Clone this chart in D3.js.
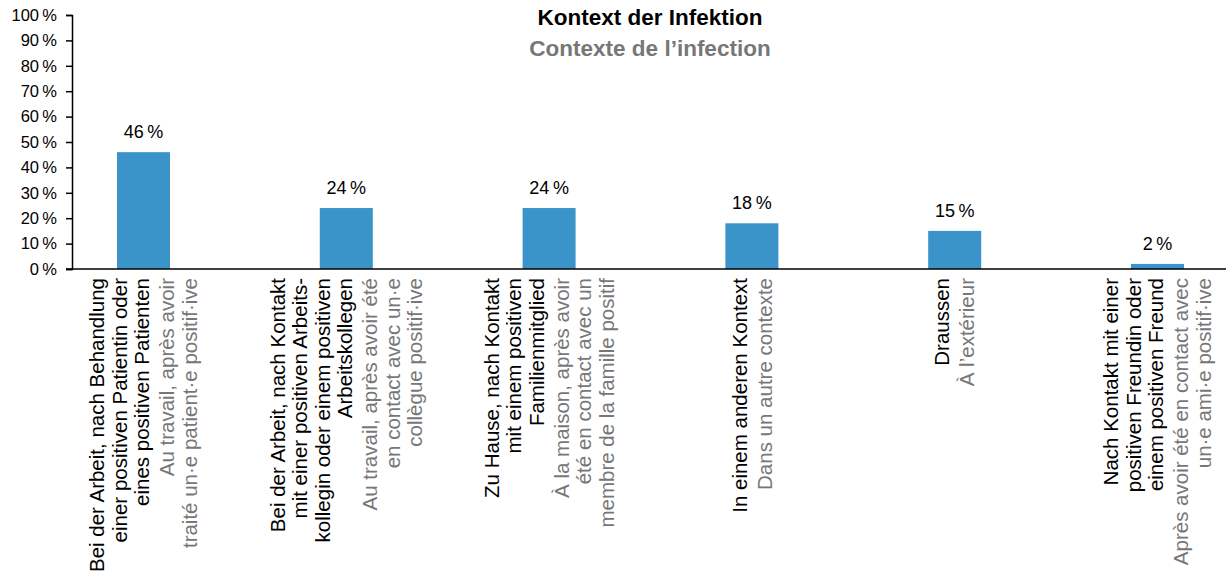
<!DOCTYPE html>
<html>
<head>
<meta charset="utf-8">
<script src="https://cdn.jsdelivr.net/npm/d3@7"></script>
<style>
  body { margin: 0; background: #fff; }
  svg { display: block; font-family: "Liberation Sans", Arial, sans-serif; }
</style>
</head>
<body>
<div id="chart"></div>
<script>
// data
var titleDe = "Kontext der Infektion";
var titleFr = "Contexte de l\u2019infection";

var values = [46, 24, 24, 18, 15, 2];

var labelsDe = [
  ["Bei der Arbeit, nach Behandlung", "einer positiven Patientin oder", "eines positiven Patienten"],
  ["Bei der Arbeit, nach Kontakt", "mit einer positiven Arbeits-", "kollegin oder einem positiven", "Arbeitskollegen"],
  ["Zu Hause, nach Kontakt", "mit einem positiven", "Familienmitglied"],
  ["In einem anderen Kontext"],
  ["Draussen"],
  ["Nach Kontakt mit einer", "positiven Freundin oder", "einem positiven Freund"]
];
var labelsFr = [
  ["Au travail, apr\u00e8s avoir", "trait\u00e9 un\u00b7e patient\u00b7e positif\u00b7ive"],
  ["Au travail, apr\u00e8s avoir \u00e9t\u00e9", "en contact avec un\u00b7e", "coll\u00e8gue positif\u00b7ive"],
  ["\u00c0 la maison, apr\u00e8s avoir", "\u00e9t\u00e9 en contact avec un", "membre de la famille positif"],
  ["Dans un autre contexte"],
  ["\u00c0 l\u2019ext\u00e9rieur"],
  ["Apr\u00e8s avoir \u00e9t\u00e9 en contact avec", "un\u00b7e ami\u00b7e positif\u00b7ive"]
];

var yTicks = [0, 10, 20, 30, 40, 50, 60, 70, 80, 90, 100];

var width = 1226, height = 578;
var svg = d3.select('#chart').append('svg')
  .attr('width', width)
  .attr('height', height);

var blue = '#3b94c9', grey = '#777777';

var x = d3.scalePoint()
  .domain(d3.range(values.length))
  .range([143.5, 1157.5]);
var barW = 53;

var y = d3.scaleLinear()
  .domain([0, 100])
  .range([269, 15]);

// titles
svg.append('text')
  .attr('x', 650).attr('y', 25)
  .attr('text-anchor', 'middle')
  .style('font-weight', 'bold').style('font-size', '22.5px')
  .text(titleDe);
svg.append('text')
  .attr('x', 650).attr('y', 56)
  .attr('text-anchor', 'middle')
  .style('font-weight', 'bold').style('font-size', '22.5px')
  .attr('fill', grey)
  .text(titleFr);

// y axis
var yAxis = d3.axisLeft(y)
  .tickValues(yTicks)
  .tickSize(6)
  .tickPadding(9)
  .tickFormat(function(d) { return d + '\u2009%'; });

var ga = svg.append('g')
  .attr('transform', 'translate(72,0)')
  .call(yAxis);
ga.select('.domain').attr('stroke', '#000').attr('stroke-width', 1.5);
ga.selectAll('.tick line').attr('stroke', '#000').attr('stroke-width', 1.5);
ga.selectAll('.tick text')
  .attr('fill', '#000')
  .style('font-size', '16.5px')
  .style('font-family', '"Liberation Sans", Arial, sans-serif');

// bars
svg.selectAll('rect.bar')
  .data(values)
  .enter().append('rect')
  .attr('class', 'bar')
  .attr('x', function(d, i) { return x(i) - barW / 2; })
  .attr('y', function(d) { return y(d); })
  .attr('width', barW)
  .attr('height', function(d) { return y(0) - y(d); })
  .attr('fill', blue);

// baseline
svg.append('line')
  .attr('x1', 66).attr('x2', width)
  .attr('y1', y(0)).attr('y2', y(0))
  .attr('stroke', '#000').attr('stroke-width', 1.5);

// value labels
svg.selectAll('text.val')
  .data(values)
  .enter().append('text')
  .attr('class', 'val')
  .attr('x', function(d, i) { return x(i); })
  .attr('y', function(d) { return y(d) - 14; })
  .attr('text-anchor', 'middle')
  .style('font-size', '18px')
  .text(function(d) { return d + '\u2009%'; });

// category labels (rotated)
var pitch = 22.5, gap = 2.5, labFs = 20.5;
values.forEach(function(v, i) {
  var lines = [];
  labelsDe[i].forEach(function(t) { lines.push({t: t, c: '#000'}); });
  labelsFr[i].forEach(function(t) { lines.push({t: t, c: grey}); });
  var total = (lines.length - 1) * pitch + gap;
  var start = x(i) - total / 2;
  lines.forEach(function(l, j) {
    var off = j * pitch + (j >= labelsDe[i].length ? gap : 0);
    var cx = start + off;
    svg.append('text')
      .attr('transform', 'translate(' + cx + ',278) rotate(-90)')
      .attr('text-anchor', 'end')
      .attr('dy', '0.35em')
      .attr('fill', l.c)
      .style('font-size', labFs + 'px')
      .text(l.t);
  });
});
</script>
</body>
</html>
